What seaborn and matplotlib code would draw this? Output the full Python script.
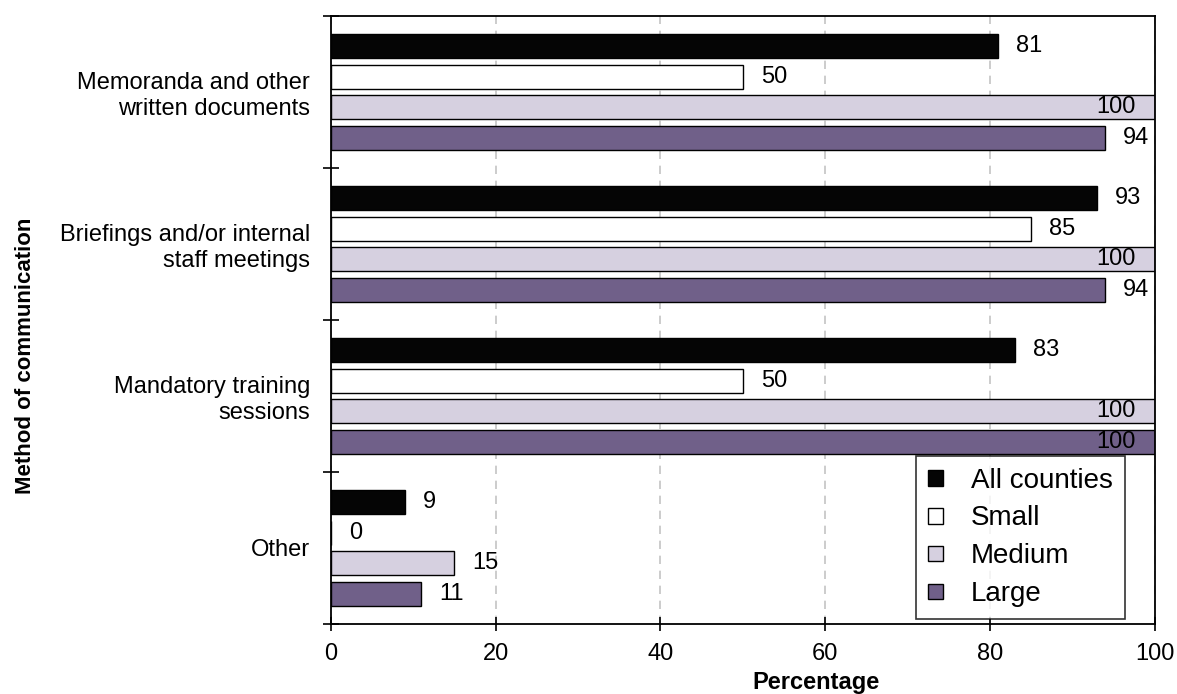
import pandas as pd
import matplotlib
matplotlib.use('Agg')
import matplotlib.pyplot as plt
import seaborn as sns

# Chart data
methods = ['Memoranda and other\nwritten documents',
           'Briefings and/or internal\nstaff meetings',
           'Mandatory training\nsessions',
           'Other']
sizes = ['All counties', 'Small', 'Medium', 'Large']
all_counties = [81, 93, 83, 9]
small = [50, 85, 50, 0]
medium = [100, 100, 100, 15]
large = [94, 94, 100, 11]
x_ticks = [0, 20, 40, 60, 80, 100]

colors = ['#050505', '#ffffff', '#d5cde3', '#6e5990']

# Long-format table for seaborn
rows = []
for size, vals in zip(sizes, [all_counties, small, medium, large]):
    for m, v in zip(methods, vals):
        rows.append({'method': m, 'size': size, 'value': v})
df = pd.DataFrame(rows)

sns.set_style('white')
plt.rcParams['font.family'] = ['Liberation Sans', 'DejaVu Sans']
plt.rcParams['text.color'] = 'black'
plt.rcParams['axes.labelcolor'] = 'black'
plt.rcParams['xtick.color'] = 'black'
plt.rcParams['ytick.color'] = 'black'

fig = plt.figure(figsize=(11.77, 6.94), dpi=100)
ax = fig.add_axes([0.281, 0.101, 0.700, 0.876])

sns.barplot(data=df, x='value', y='method', hue='size', orient='h',
            palette=colors, edgecolor='black', linewidth=1,
            width=0.8, gap=0.21, ax=ax)

# value labels
for cont in ax.containers:
    for bar in cont:
        v = bar.get_width()
        yc = bar.get_y() + bar.get_height() / 2
        if v >= 100:
            ax.annotate(f'{v:.0f}', (100, yc), xytext=(-14, 0), textcoords='offset points',
                        ha='right', va='center', fontsize=17)
        else:
            ax.annotate(f'{v:.0f}', (v, yc), xytext=(13, 0), textcoords='offset points',
                        ha='left', va='center', fontsize=17)

ax.set_xlim(0, 100)
ax.set_ylim(3.5, -0.5)
ax.set_xticks(x_ticks)
ax.xaxis.grid(True, linestyle=(0, (5, 4)), color='#c4c4c4', linewidth=1.2)
ax.set_axisbelow(True)

for s in ax.spines.values():
    s.set_visible(True)
    s.set_color('black')
    s.set_linewidth(1.3)

ax.tick_params(axis='x', which='major', direction='inout', length=10, width=1.2,
               labelsize=17, bottom=True, pad=9)
ax.tick_params(axis='y', which='major', length=0, labelsize=17, pad=15)
ax.set_yticks([-0.5, 0.5, 1.5, 2.5, 3.5], minor=True)
ax.tick_params(axis='y', which='minor', direction='inout', length=12, width=1.2, left=True)

ax.set_xlabel('Percentage', fontsize=17, fontweight='bold')
ax.set_ylabel('Method of communication', fontsize=16, fontweight='bold')
ax.xaxis.set_label_coords(0.589, -0.077)
ax.yaxis.set_label_coords(-0.358, 0.441)

leg = ax.legend(loc='lower right', bbox_to_anchor=(0.9636, 0.008), fontsize=20,
                frameon=True, fancybox=False, edgecolor='black',
                handlelength=0.55, handleheight=0.5, handletextpad=1.0,
                labelspacing=0.43, borderpad=0.42, borderaxespad=0)
leg.get_frame().set_linewidth(1.2)

fig.savefig('out.png', dpi=100)
